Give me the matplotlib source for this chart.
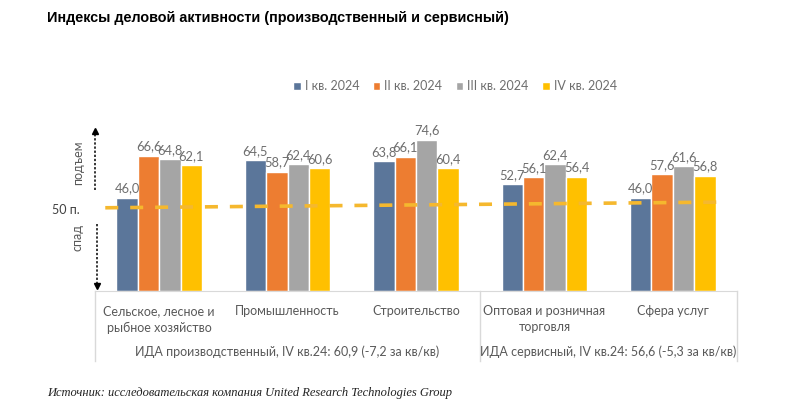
import numpy as np
import matplotlib.pyplot as plt

# data
categories = ['Сельское, лесное и\nрыбное хозяйство', 'Промышленность', 'Строительство',
              'Оптовая и розничная\nторговля', 'Сфера услуг']
quarters = ['I кв. 2024', 'II кв. 2024', 'III кв. 2024', 'IV кв. 2024']
q1 = [46.0, 64.5, 63.8, 52.7, 46.0]
q2 = [66.6, 58.7, 66.1, 56.1, 57.6]
q3 = [64.8, 62.4, 74.6, 62.4, 61.6]
q4 = [62.1, 60.6, 60.4, 56.4, 56.8]
series = [q1, q2, q3, q4]
groups = ['ИДА производственный, IV кв.24: 60,9 (-7,2 за кв/кв)',
          'ИДА сервисный, IV кв.24: 56,6 (-5,3 за кв/кв)']
mid_line = [41.0, 43.8]   # dashed "50 п." line as drawn

colors = ['#5B769A', '#ED7D31', '#A5A5A5', '#FFC000']
txt = '#595959'
sans = ['Lato', 'Noto Sans', 'DejaVu Sans']

fig = plt.figure(figsize=(8, 4.15), dpi=100)
ax = fig.add_axes([95/800, 1-291/415, 642/800, 162.4/415])

x = np.arange(len(categories))
w = 0.167
for i, vals in enumerate(series):
    pos = x + (i - 1.5) * w
    bars = ax.bar(pos, vals, w, color=colors[i], edgecolor='white', linewidth=1.0,
                  label=quarters[i], zorder=2)
    for b, v in zip(bars, vals):
        ax.text(b.get_x() + b.get_width()/2, v + 1.6, f'{v:.1f}'.replace('.', ','),
                ha='center', va='bottom', fontsize=9.3, color='#6E6E6E', family=sans, zorder=4)

ax.plot([-0.42, 4.38], mid_line, color='#F5B82E', lw=2.6, dashes=(3.6, 3.3),
        solid_capstyle='butt', dash_capstyle='butt', zorder=3)

ax.set_xlim(-0.5, 4.5)
ax.set_ylim(0, 80)
for s in ['left', 'right', 'top']:
    ax.spines[s].set_visible(False)
ax.spines['bottom'].set_color('#D9D9D9')
ax.set_yticks([])
ax.set_xticks(x)
ax.set_xticklabels(categories, fontsize=9, color=txt, family=sans, linespacing=1.45)
ax.tick_params(axis='x', length=0, pad=10)

# group boxes below axis
tr = ax.get_xaxis_transform()
for xv in [-0.5, 2.5, 4.5]:
    ax.plot([xv, xv], [0, -0.43], color='#D9D9D9', lw=1, transform=tr, clip_on=False)
ax.text(1.0, -0.377, groups[0], transform=tr, ha='center', va='center',
        fontsize=9, color=txt, family=sans)
ax.text(3.5, -0.377, groups[1], transform=tr, ha='center', va='center',
        fontsize=9, color=txt, family=sans)

# left arrows
at = ax.transAxes
ax.plot([0, 0], [0.62, 0.985], ls=(0, (1.5, 1.2)), color='black', lw=1.1, transform=at, clip_on=False)
ax.plot([0], [0.985], marker='^', color='black', ms=5, transform=at, clip_on=False)
ax.plot([0.003, 0.003], [0.41, 0.03], ls=(0, (1.5, 1.2)), color='black', lw=1.1, transform=at, clip_on=False)
ax.plot([0.003], [0.03], marker='v', color='black', ms=5, transform=at, clip_on=False)
fig.text(78/800, 1-163/415, 'подъем', rotation=90, ha='center', va='center',
         fontsize=9, color=txt, family=sans)
fig.text(78/800, 1-237/415, 'спад', rotation=90, ha='center', va='center',
         fontsize=9, color=txt, family=sans)
fig.text(66/800, 1-210/415, '50 п.', ha='center', va='center',
         fontsize=9, color='#404040', family=sans)

fig.legend(loc='center', bbox_to_anchor=(455/800, 1-86/415), ncol=4, frameon=False,
           handlelength=0.6, handleheight=0.6, handletextpad=0.3, columnspacing=1.1,
           prop={'family': sans, 'size': 9}, labelcolor='#6E6E6E')

fig.text(47/800, 1-18/415, 'Индексы деловой активности (производственный и сервисный)',
         ha='left', va='center', fontsize=10.4, fontweight='bold', family='Liberation Sans')
fig.text(47/800, 1-393/415, 'Источник: исследовательская компания United Research Technologies Group',
         ha='left', va='center', fontsize=9, style='italic', family='Liberation Serif', color='#222222')

fig.savefig('out.png', dpi=100)
